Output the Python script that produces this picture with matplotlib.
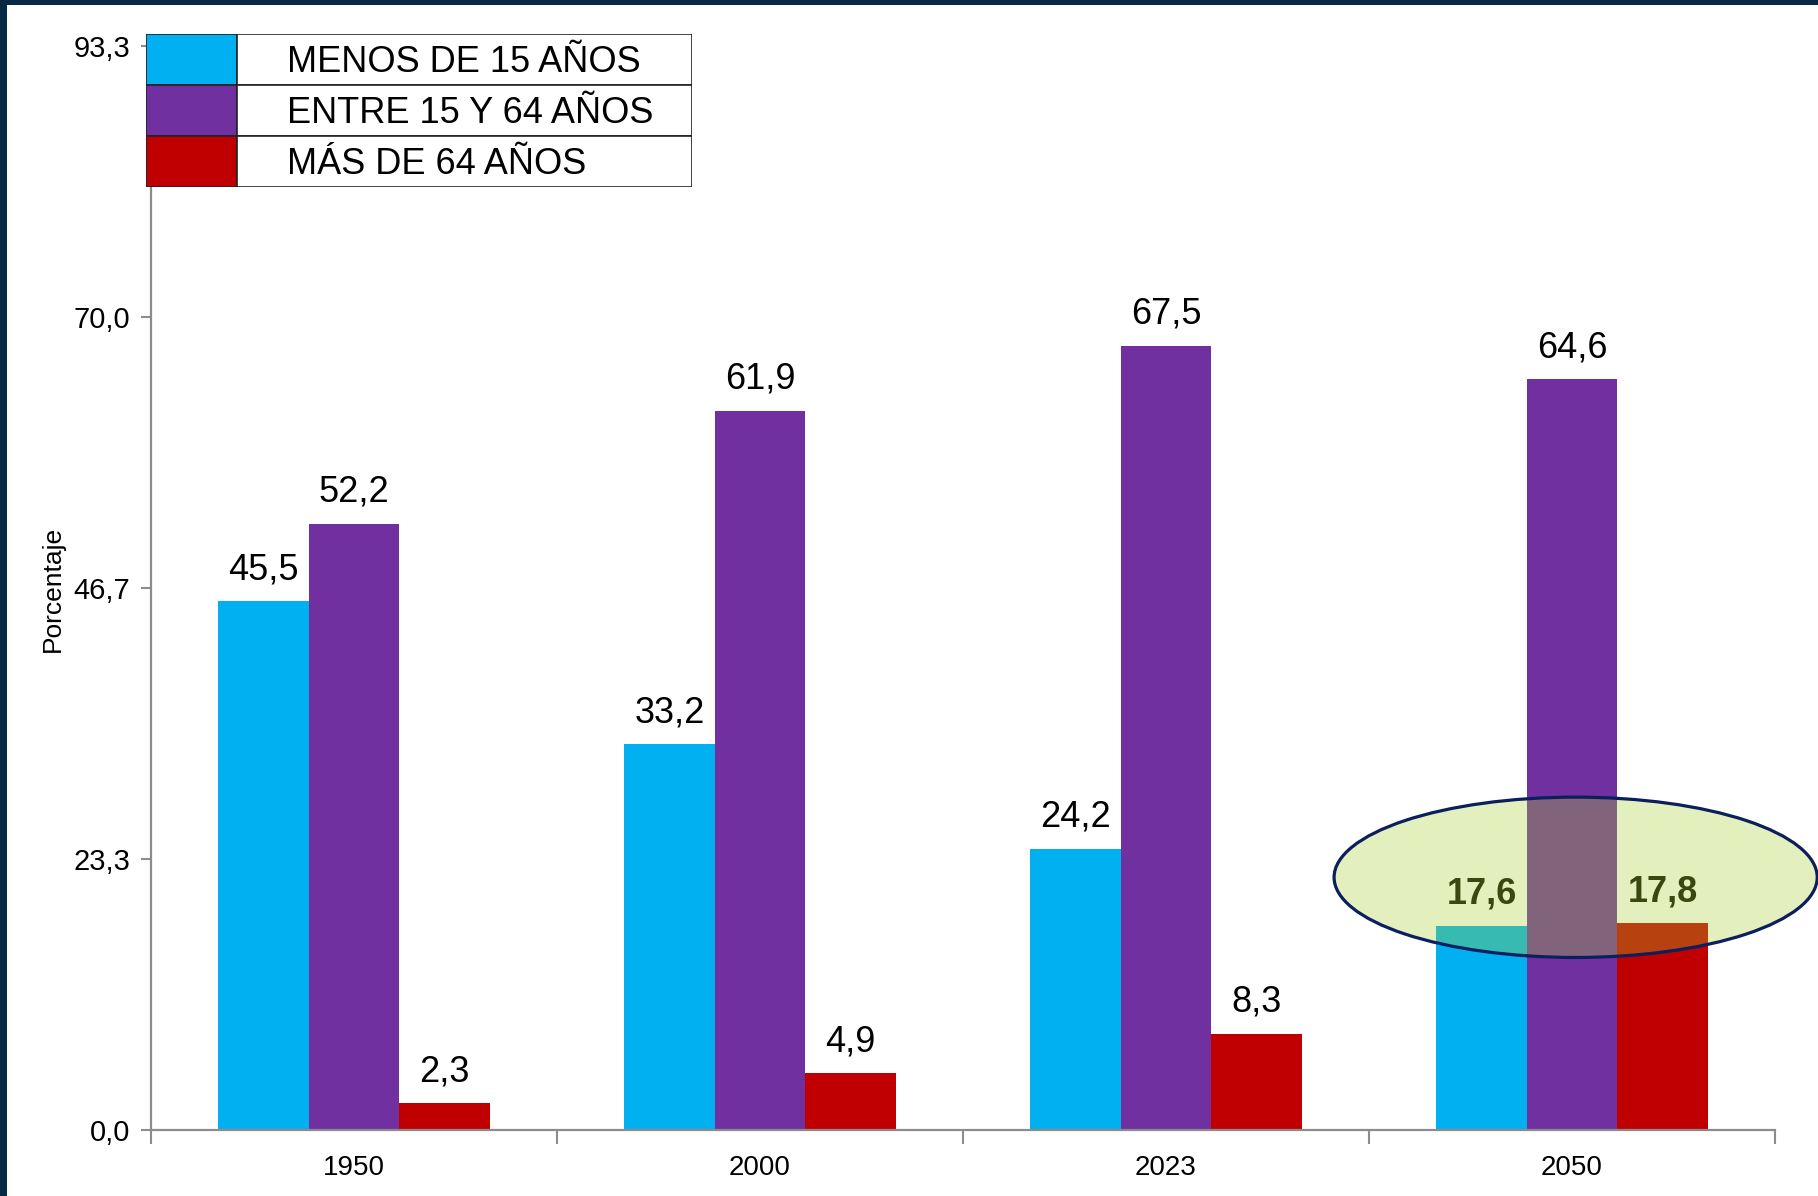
import matplotlib
matplotlib.use("Agg")
import matplotlib.pyplot as plt
from matplotlib.patches import Ellipse, Rectangle
import numpy as np

plt.rcParams["font.family"] = ["Liberation Sans Narrow", "Liberation Sans", "DejaVu Sans"]

years = ["1950", "2000", "2023", "2050"]
series = ["MENOS DE 15 AÑOS", "ENTRE 15 Y 64 AÑOS", "MÁS DE 64 AÑOS"]
menos_15 = [45.5, 33.2, 24.2, 17.6]
entre_15_64 = [52.2, 61.9, 67.5, 64.6]
mas_64 = [2.3, 4.9, 8.3, 17.8]
colors = ["#00b0f0", "#7030a0", "#c00000"]
y_max = 93.3
y_tick_labels = ["0,0", "23,3", "46,7", "70,0", "93,3"]

W, H = 1818, 1196
fig = plt.figure(figsize=(W / 100, H / 100), dpi=100, facecolor="#062a44")
# white panel inside the dark frame
fig.patches.append(Rectangle((7 / W, 0), 1, 1 - 5 / H, transform=fig.transFigure,
                             facecolor="white", edgecolor="none", zorder=-10))

ax = fig.add_axes([151 / W, 1 - 1130 / H, (1775 - 151) / W, (1130 - 46) / H])
ax.set_facecolor("none")

values = [menos_15, entre_15_64, mas_64]
x = np.arange(len(years)) + 0.5
bw = 0.223
offsets = [-bw, 0, bw]
for vals, col, off in zip(values, colors, offsets):
    ax.bar(x + off, vals, width=bw, color=col, edgecolor="none", zorder=2)

# highlight ellipse on 2050
ell = Ellipse((3.509, 21.75), 1.19, 13.8, facecolor="#aad031", alpha=0.32,
              edgecolor="none", zorder=3, clip_on=False)
ax.add_patch(ell)
ax.add_patch(Ellipse((3.509, 21.75), 1.19, 13.8, facecolor="none",
                     edgecolor="#0b1f5e", linewidth=2.3, zorder=3.5, clip_on=False))

for s, (vals, off) in enumerate(zip(values, offsets)):
    for i, v in enumerate(vals):
        hl = (i == 3 and s != 1)
        ax.annotate(f"{v:.1f}".replace(".", ","), (x[i] + off, v),
                    xytext=(0, 10), textcoords="offset points",
                    ha="center", va="bottom", fontsize=26,
                    fontweight="bold" if hl else "normal",
                    color="#3b4710" if hl else "black", zorder=5)

ax.set_xlim(0, len(years))
ax.set_ylim(0, y_max)
ax.set_yticks(np.linspace(0, y_max, len(y_tick_labels)))
ax.set_yticklabels(y_tick_labels, fontsize=21)
ax.set_xticks(np.arange(len(years) + 1))
ax.set_xticklabels([])
ax.set_xticks(x, minor=True)
ax.set_xticklabels(years, minor=True, fontsize=20)
ax.tick_params(axis="x", which="major", length=10, width=1.5, color="#8c8c8c", direction="out")
ax.tick_params(axis="x", which="minor", length=0, pad=18)
ax.tick_params(axis="y", length=7, width=1.5, color="#8c8c8c", pad=8)
for side in ["top", "right"]:
    ax.spines[side].set_visible(False)
for side in ["left", "bottom"]:
    ax.spines[side].set_color("#8c8c8c")
    ax.spines[side].set_linewidth(1.6)

fig.text(53 / W, 1 - 589 / H, "Porcentaje", rotation=90, fontsize=19,
         ha="center", va="center")

# table-style legend
lg = fig.add_axes([146 / W, 1 - 187 / H, (692 - 146) / W, (187 - 34) / H])
lg.set_xlim(0, 546)
lg.set_ylim(0, 3)
lg.axis("off")
for k, (name, col) in enumerate(zip(series, colors)):
    y0 = 2 - k
    lg.add_patch(Rectangle((0, y0), 91, 1, facecolor=col, edgecolor="#222222", linewidth=1.2))
    lg.add_patch(Rectangle((91, y0), 455, 1, facecolor="white", edgecolor="#222222", linewidth=1.2))
    lg.text(141, y0 + 0.45, name, fontsize=26, ha="left", va="center")

fig.savefig("out.png", dpi=100, facecolor=fig.get_facecolor())
